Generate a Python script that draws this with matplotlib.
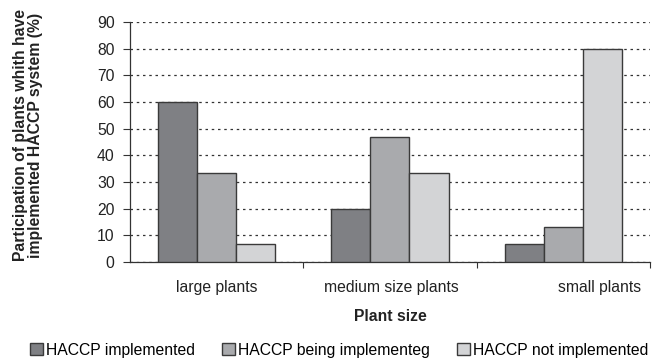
import numpy as np
import matplotlib.pyplot as plt
from matplotlib.patches import Patch

# ==============================
# DATA
# ==============================
plant_sizes = ["large plants", "medium size plants", "small plants"]
series_names = ["HACCP implemented", "HACCP being implementeg", "HACCP not implemented"]
implemented = [60.0, 20.0, 6.7]
being_implemented = [33.3, 46.7, 13.3]
not_implemented = [6.7, 33.3, 80.0]

colors = ["#7f8084", "#a9aaad", "#d3d4d6"]
edge = "#3a3a3a"
fs = 11.3

plt.rcParams["font.family"] = ["Liberation Sans", "DejaVu Sans"]

# ==============================
# FIGURE
# ==============================
fig = plt.figure(figsize=(6.56, 3.59), dpi=100)
ax = fig.add_axes([0.198, 0.270, 0.793, 0.669])

x = np.arange(len(plant_sizes))
width = 0.225
series = [implemented, being_implemented, not_implemented]
for i, (vals, c, name) in enumerate(zip(series, colors, series_names)):
    ax.bar(x + (i - 1) * width, vals, width, color=c, edgecolor=edge,
           linewidth=1.0, label=name, zorder=3)

ax.set_xlim(-0.5, len(plant_sizes) - 0.5)
ax.set_ylim(0, 90)
ax.set_yticks(range(0, 91, 10))
ax.yaxis.grid(True, color="#333333", linestyle=(0, (2, 3)), linewidth=0.9, zorder=0)
ax.tick_params(axis="y", labelsize=fs, length=5, width=0.8, pad=6,
               color="#333333", labelcolor="#222222")

# group boundaries as ticks, labels drawn separately
ax.set_xticks(x + 0.5)
ax.set_xticklabels([])
ax.tick_params(axis="x", length=4, width=0.8, color="#333333")
label_shift = [0.0, 0.01, 0.21]
for xi, name, s in zip(x, plant_sizes, label_shift):
    ax.text(xi + s, -9.4, name, ha="center", va="center", fontsize=fs,
            color="#222222")

for side in ["top", "right"]:
    ax.spines[side].set_visible(False)
for side in ["left", "bottom"]:
    ax.spines[side].set_color("#333333")
    ax.spines[side].set_linewidth(0.9)

ax.set_xlabel("Plant size", fontsize=fs, fontweight="bold", color="#222222")
ax.xaxis.set_label_coords(0.5, -0.195)
ax.set_ylabel("Participation of plants whith have\nimplemented HACCP system (%)",
              fontsize=fs, fontweight="bold", color="#222222", linespacing=1.0)
ax.yaxis.set_label_coords(-0.167, 0.527)

handles = [Patch(facecolor=c, edgecolor=edge, linewidth=1.0) for c in colors]
fig.legend(handles, series_names, loc="center", bbox_to_anchor=(0.517, 0.025),
           ncol=3, frameon=False, fontsize=fs, handlelength=0.85, handleheight=0.85,
           handletextpad=0.2, columnspacing=1.7, borderpad=0)

fig.savefig("out.png", dpi=100)
